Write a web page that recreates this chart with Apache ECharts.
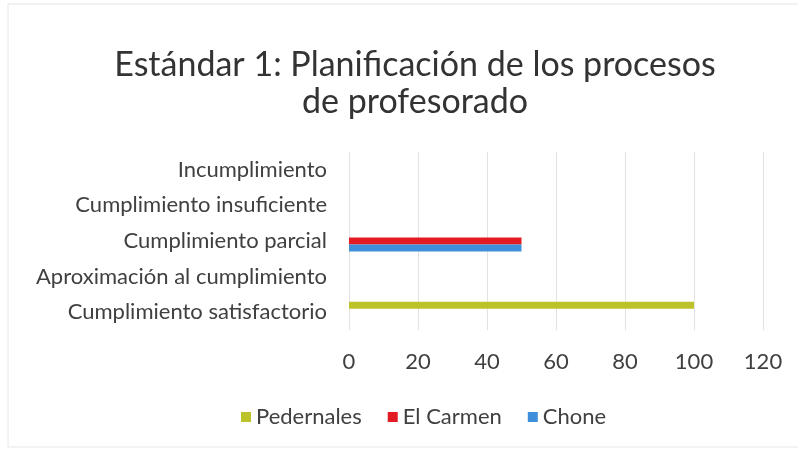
<!DOCTYPE html>
<html>
<head>
<meta charset="utf-8">
<script src="https://cdn.jsdelivr.net/npm/echarts@6/dist/echarts.min.js"></script>
<style>
  html, body { margin: 0; padding: 0; background: #fff; }
  #chart { width: 798px; height: 451px; }
</style>
</head>
<body>
<div id="chart"></div>
<script>
// categorías (de abajo hacia arriba)
var categories = [
  "Cumplimiento satisfactorio",
  "Aproximación al cumplimiento",
  "Cumplimiento parcial",
  "Cumplimiento insuficiente",
  "Incumplimiento"
];
var pedernales = [100, 0, 0, 0, 0];
var elCarmen = [0, 0, 50, 0, 0];
var chone = [0, 0, 50, 0, 0];
var xTicks = [0, 20, 40, 60, 80, 100, 120];

var font = "Lato";
var myChart = echarts.init(document.getElementById("chart"));
var options = {
  animation: false,
  title: {
    text: "Estándar 1: Planificación de los procesos\nde profesorado",
    left: 410,
    top: 42,
    textAlign: "center",
    textStyle: {
      fontFamily: font,
      fontSize: 34,
      fontWeight: "normal",
      color: "#333",
      lineHeight: 37
    }
  },
  legend: {
    data: ["Pedernales", "El Carmen", "Chone"],
    left: 236,
    top: 401,
    width: 540,
    icon: "rect",
    itemWidth: 10,
    itemHeight: 10,
    itemGap: 26,
    textStyle: { fontFamily: font, fontSize: 22, color: "#404040" }
  },
  grid: {
    left: 349,
    right: 35,
    top: 152,
    bottom: 121,
    containLabel: false
  },
  xAxis: {
    type: "value",
    min: 0,
    max: 120,
    interval: 20,
    axisLine: { show: false },
    axisTick: { show: false },
    splitLine: { show: true, lineStyle: { color: "#e2e2e2", width: 1 } },
    axisLabel: {
      fontFamily: font,
      fontSize: 22,
      color: "#404040",
      margin: 21,
      formatter: function (v) { return xTicks.indexOf(v) > -1 ? String(v) : ""; }
    }
  },
  yAxis: {
    type: "category",
    data: categories,
    axisLine: { show: false },
    axisTick: { show: false },
    axisLabel: { fontFamily: font, fontSize: 22, color: "#404040", margin: 22 }
  },
  graphic: [{
    type: "rect",
    shape: { x: 8, y: 4, width: 820, height: 443 },
    style: { fill: "none", stroke: "#e6e6e6", lineWidth: 1 },
    silent: true
  }],
  series: [
    { name: "Pedernales", type: "bar", data: pedernales, color: "#bcc22a", barWidth: 7, barGap: "0%" },
    { name: "El Carmen", type: "bar", data: elCarmen, color: "#e31b23", barWidth: 7, barGap: "0%" },
    { name: "Chone", type: "bar", data: chone, color: "#3d8fd9", barWidth: 7, barGap: "0%" }
  ]
};
myChart.setOption(options);
</script>
</body>
</html>
